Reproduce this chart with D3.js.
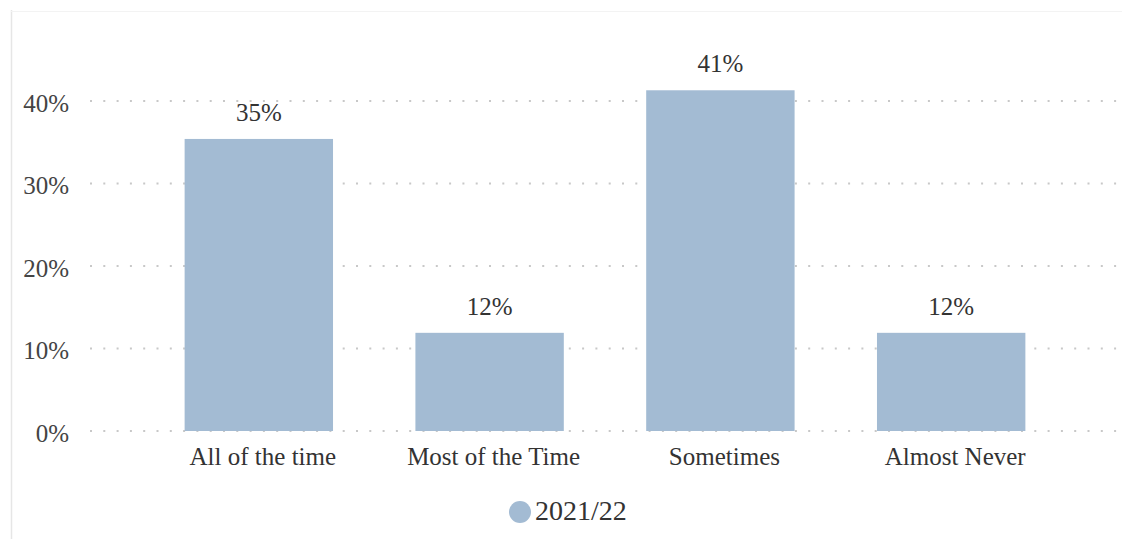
<!DOCTYPE html>
<html>
<head>
<meta charset="utf-8">
<script src="https://cdn.jsdelivr.net/npm/d3@7"></script>
<style>
  html, body { margin: 0; padding: 0; background: #fff; }
  svg { display: block; }
</style>
</head>
<body>
<svg id="chart" width="1122" height="539"></svg>
<script>
const categories = ["All of the time", "Most of the Time", "Sometimes", "Almost Never"];
const values2021 = [0.354, 0.119, 0.413, 0.119];
const valueLabels = ["35%", "12%", "41%", "12%"];
const yTicks = [0, 0.1, 0.2, 0.3, 0.4];
const seriesName = "2021/22";

const W = 1122, H = 539;
const FONT = "'Liberation Serif', 'Times New Roman', Tinos, 'DejaVu Serif', serif";
const svg = d3.select("#chart").style("font-family", FONT);
const barColor = "#a3bbd3";
const textColor = "#333";

// frame lines (left and top)
svg.append("line").attr("x1", 11.5).attr("x2", 11.5).attr("y1", 10).attr("y2", H)
  .attr("stroke", "#e6e6e6").attr("stroke-width", 1.5);
svg.append("line").attr("x1", 11).attr("x2", W).attr("y1", 11.5).attr("y2", 11.5)
  .attr("stroke", "#f3f3f3").attr("stroke-width", 1);

const x = d3.scaleBand().domain(categories).range([90, 1120])
  .paddingInner(0.357).paddingOuter(0.41);
const y = d3.scaleLinear().domain([0, 0.4]).range([431, 101]);

// gridlines
const grid = svg.append("g");
grid.selectAll("line").data(yTicks).join("line")
  .attr("x1", 90).attr("x2", W)
  .attr("y1", d => y(d)).attr("y2", d => y(d))
  .attr("stroke", "#c8c8c8").attr("stroke-width", 2)
  .attr("stroke-dasharray", "2,11.3");

// y axis labels
const yAxis = d3.axisLeft(y).tickValues(yTicks).tickFormat(d3.format(".0%")).tickSize(0).tickPadding(0);
const yg = svg.append("g").attr("transform", "translate(69,2)").call(yAxis);
yg.attr("font-family", null);
yg.select(".domain").remove();
yg.selectAll("text").style("font-family", FONT).style("font-size", "25px").attr("fill", "#444")
  .attr("dy", "0.33em");

// bars
svg.append("g").selectAll("rect").data(categories).join("rect")
  .attr("x", d => x(d)).attr("width", x.bandwidth())
  .attr("y", (d, i) => y(values2021[i]))
  .attr("height", (d, i) => y(0) - y(values2021[i]))
  .attr("fill", barColor);

// value labels
svg.append("g").selectAll("text").data(categories).join("text")
  .attr("x", d => x(d) + x.bandwidth() / 2)
  .attr("y", (d, i) => y(values2021[i]) - 18)
  .attr("text-anchor", "middle")
  .style("font-family", FONT).style("font-size", "25px").attr("fill", textColor)
  .text((d, i) => valueLabels[i]);

// x axis labels
const xAxis = d3.axisBottom(x).tickSize(0).tickPadding(0);
const xg = svg.append("g").attr("transform", "translate(4,447)").call(xAxis);
xg.attr("font-family", null);
xg.select(".domain").remove();
xg.selectAll("text").style("font-family", FONT).style("font-size", "25px").attr("fill", textColor)
  .attr("dy", "0.71em");

// legend
const lg = svg.append("g");
lg.append("circle").attr("cx", 520).attr("cy", 512).attr("r", 11).attr("fill", barColor);
lg.append("text").attr("x", 535).attr("y", 520)
  .style("font-family", FONT).style("font-size", "28px").attr("fill", textColor)
  .text(seriesName);
</script>
</body>
</html>
